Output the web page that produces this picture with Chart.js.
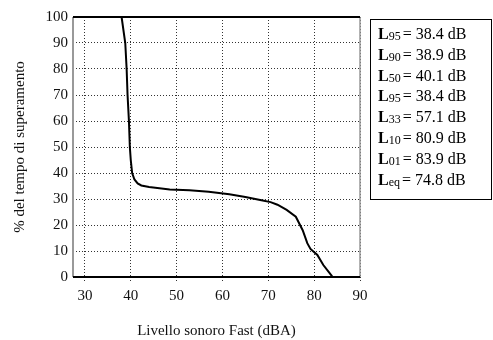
<!DOCTYPE html>
<html>
<head>
<meta charset="utf-8">
<script src="https://cdn.jsdelivr.net/npm/chart.js@4"></script>
<style>
  html, body { margin: 0; padding: 0; background: #fff; }
  #wrap { width: 493px; height: 340px; }
</style>
</head>
<body>
<div id="wrap"><canvas id="curvaChart"></canvas></div>
<script>
// livello sonoro (dBA) e % del tempo di superamento
const livelli = [38.0, 38.8, 39.1, 39.3, 39.6, 39.8, 40.0, 40.3, 40.8, 41.5, 42.3, 44.0, 48.5, 52.8, 57.0, 61.5, 65.0, 68.5, 70.5, 72.0, 74.0, 76.0, 77.5, 78.5, 79.2, 80.7, 82.0, 83.8, 84.0];
const percentuali = [100, 90, 80, 70, 60, 50, 45, 40, 37.5, 36, 35.2, 34.6, 33.7, 33.4, 32.8, 31.8, 30.8, 29.5, 28.8, 27.8, 25.8, 23.2, 18, 13, 10.8, 8.5, 4.6, 0.5, 0];

// indici statistici
const indici = ['95', '90', '50', '95', '33', '10', '01', 'eq'];
const valoriIndici = [38.4, 38.9, 40.1, 38.4, 57.1, 80.9, 83.9, 74.8];

const serif = "'Liberation Serif', 'DejaVu Serif', serif";

// bordo dell'area del grafico
const bordoPlugin = {
  id: 'bordo',
  afterDatasetsDraw(chart) {
    const { ctx, chartArea: a } = chart;
    ctx.save();
    ctx.lineWidth = 2;
    ctx.strokeStyle = '#999';
    ctx.beginPath();
    ctx.moveTo(a.left, a.top); ctx.lineTo(a.left, a.bottom);
    ctx.stroke();
    ctx.lineWidth = 1.5;
    ctx.beginPath();
    ctx.moveTo(a.right, a.top); ctx.lineTo(a.right, a.bottom);
    ctx.stroke();
    ctx.strokeStyle = '#000';
    ctx.lineWidth = 2;
    ctx.beginPath();
    ctx.moveTo(a.left, a.top); ctx.lineTo(a.right, a.top);
    ctx.moveTo(a.left, a.bottom); ctx.lineTo(a.right, a.bottom);
    ctx.stroke();
    ctx.restore();
  }
};

// riquadro con gli indici
const riquadroPlugin = {
  id: 'riquadro',
  afterDraw(chart) {
    const ctx = chart.ctx;
    ctx.save();
    ctx.strokeStyle = '#000';
    ctx.lineWidth = 1;
    ctx.strokeRect(370.5, 19.5, 121, 180);
    ctx.fillStyle = '#000';
    ctx.textBaseline = 'alphabetic';
    indici.forEach((s, i) => {
      const y = 39 + i * 20.8;
      let x = 378;
      ctx.font = 'bold 16px ' + serif;
      ctx.fillText('L', x, y);
      x += ctx.measureText('L').width;
      ctx.font = '12px ' + serif;
      ctx.fillText(s, x, y + 1);
      x += ctx.measureText(s).width + 2;
      ctx.font = '16px ' + serif;
      ctx.fillText('= ' + valoriIndici[i].toFixed(1) + ' dB', x, y);
    });
    ctx.restore();
  }
};

const ctx = document.getElementById('curvaChart').getContext('2d');
new Chart(ctx, {
  type: 'scatter',
  data: {
    datasets: [{
      data: livelli.map((x, i) => ({ x: x, y: percentuali[i] })),
      showLine: true,
      borderColor: '#000',
      borderWidth: 2,
      pointRadius: 0,
      tension: 0
    }]
  },
  options: {
    responsive: true,
    maintainAspectRatio: false,
    animation: false,
    layout: { padding: { top: 17, right: 133, bottom: 0, left: 0 } },
    plugins: { legend: { display: false }, tooltip: { enabled: false } },
    scales: {
      x: {
        type: 'linear',
        min: 27.4,
        max: 90,
        afterFit(scale) { scale.height = 63; },
        border: { display: false, dash: [1, 2] },
        grid: {
          color: '#333',
          lineWidth: 1,
          tickLength: 6,
          tickColor: '#333',
          tickBorderDash: [1, 2],
          drawTicks: true
        },
        ticks: {
          stepSize: 10,
          includeBounds: false,
          padding: 4,
          color: '#111',
          font: { family: serif, size: 15 }
        },
        title: {
          display: true,
          text: 'Livello sonoro Fast (dBA)',
          color: '#111',
          font: { family: serif, size: 15 },
          padding: { top: 6, bottom: 0 }
        }
      },
      y: {
        min: 0,
        max: 100,
        afterFit(scale) { scale.width = 73; },
        border: { display: false, dash: [1, 2] },
        grid: { color: '#333', lineWidth: 1, drawTicks: false },
        ticks: {
          stepSize: 10,
          padding: 5,
          color: '#111',
          font: { family: serif, size: 15 }
        },
        title: {
          display: true,
          text: '% del tempo di superamento',
          color: '#111',
          font: { family: serif, size: 15 },
          padding: { top: 11, bottom: 0 }
        }
      }
    }
  },
  plugins: [bordoPlugin, riquadroPlugin]
});
</script>
</body>
</html>
